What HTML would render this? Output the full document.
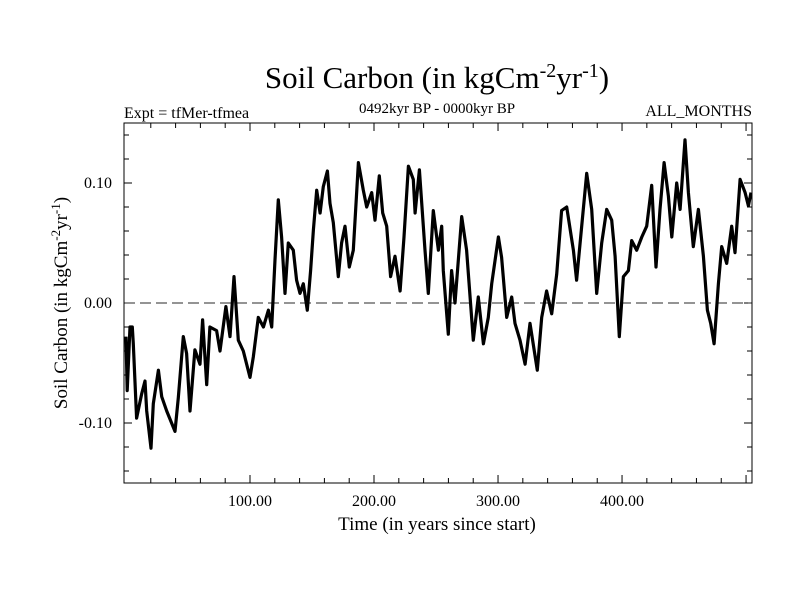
<!DOCTYPE html>
<html><head><meta charset="utf-8"><style>
body{margin:0;background:#fff;}
svg{display:block;font-family:"Liberation Serif",serif;}
</style></head><body>
<svg id="chart" width="800" height="600" viewBox="0 0 800 600">
<rect width="800" height="600" fill="#fff"/>
<text x="437" y="88" font-size="31" text-anchor="middle">Soil Carbon (in kgCm<tspan dy="-11" font-size="20">-2</tspan><tspan dy="11">yr</tspan><tspan dy="-11" font-size="20">-1</tspan><tspan dy="11">)</tspan></text>
<text x="124" y="118" font-size="16">Expt = tfMer-tfmea</text>
<text x="437" y="113" font-size="15" text-anchor="middle">0492kyr BP - 0000kyr BP</text>
<text x="752" y="116" font-size="16" text-anchor="end">ALL_MONTHS</text>
<text x="437" y="530" font-size="19" text-anchor="middle">Time (in years since start)</text>
<text transform="translate(67,303) rotate(-90)" font-size="19" text-anchor="middle">Soil Carbon (in kgCm<tspan dy="-7" font-size="13">-2</tspan><tspan dy="7">yr</tspan><tspan dy="-7" font-size="13">-1</tspan><tspan dy="7">)</tspan></text>
<g id="axes"></g>
<g id="series"></g>
<rect x="124" y="123" width="628" height="360" fill="none" stroke="#000" stroke-width="1"/>
</svg>
<script>
const years=[0,1,3.2,5.1,5.9,8.6,12.6,15.3,16.7,20.2,22,26.1,28.8,32.8,39.5,42.2,46.2,48.9,51.6,55.6,59.7,61.8,65.1,67.7,73.1,75.8,80.6,83.9,87.1,90.6,94.6,100,102.7,106.7,110.8,114.8,117.5,120.2,122.8,125.5,128.2,130.9,134.9,137.6,140.3,143,146.2,148.9,151.1,153.8,156.5,159.1,162.4,164.5,167.2,171.2,173.9,176.6,180.1,183.3,187.4,191.4,194.1,198.1,200.8,204.3,207,210.2,213.4,216.9,221,224.2,227.7,231.7,233.1,236.6,241.1,243.8,247.8,251.9,254.6,255.9,259.9,262.6,265.3,270.7,274.7,280.1,284.1,288.2,292.2,294.9,300.3,302.9,307,311,313.7,317.7,321.8,325.8,331.7,335.2,339.2,343.3,347.3,351.3,355.4,360.8,363.4,367.5,371.5,375.5,379.6,383.6,387.6,391.7,394.4,397.8,401.1,405.1,407.8,411.8,415.9,419.9,423.9,427.4,430.6,433.9,437.4,440.1,444.1,446.8,450.8,453.5,457.5,461.6,465.6,468.8,471.5,474.2,477.7,480.4,484.4,488.4,491.1,495.2,499.2,501.9,504];
const values=[-0.028,-0.073,-0.02,-0.02,-0.034,-0.096,-0.076,-0.065,-0.09,-0.121,-0.084,-0.056,-0.078,-0.09,-0.107,-0.079,-0.028,-0.042,-0.09,-0.039,-0.051,-0.014,-0.068,-0.02,-0.023,-0.04,-0.003,-0.028,0.022,-0.031,-0.04,-0.062,-0.045,-0.012,-0.02,-0.006,-0.02,0.036,0.086,0.055,0.008,0.05,0.044,0.019,0.008,0.016,-0.006,0.027,0.061,0.094,0.075,0.097,0.11,0.083,0.067,0.022,0.05,0.064,0.03,0.044,0.117,0.094,0.08,0.092,0.069,0.106,0.075,0.064,0.022,0.039,0.01,0.055,0.114,0.103,0.075,0.111,0.044,0.008,0.077,0.044,0.064,0.027,-0.026,0.027,0,0.072,0.044,-0.031,0.005,-0.034,-0.012,0.016,0.055,0.038,-0.012,0.005,-0.017,-0.031,-0.051,-0.017,-0.056,-0.012,0.01,-0.009,0.024,0.077,0.08,0.044,0.019,0.064,0.108,0.078,0.008,0.05,0.078,0.069,0.039,-0.028,0.022,0.027,0.052,0.044,0.055,0.064,0.098,0.03,0.078,0.117,0.089,0.055,0.1,0.078,0.136,0.092,0.047,0.078,0.039,-0.006,-0.017,-0.034,0.016,0.047,0.033,0.064,0.042,0.103,0.092,0.081,0.092];
const xTickLabels=["100.00","200.00","300.00","400.00"];
const xTickValues=[100,200,300,400];
const yTickLabels=["-0.10","0.00","0.10"];
const yTickValues=[-0.1,0,0.1];

const L=124,R=752,T=123,B=483;
const xMin=-1.6,xMax=504.8,yMin=-0.15,yMax=0.15;
const sx=v=>L+(v-xMin)/(xMax-xMin)*(R-L);
const sy=v=>B-(v-yMin)/(yMax-yMin)*(B-T);
const NS="http://www.w3.org/2000/svg";
const axes=document.getElementById('axes');
const ser=document.getElementById('series');
function mk(tag,attrs,parent){const e=document.createElementNS(NS,tag);for(const k in attrs)e.setAttribute(k,attrs[k]);parent.appendChild(e);return e;}

for(let v=20;v<=500;v+=20){
  const x=sx(v);const major=v%100===0;const len=major?8:5;
  const t1=mk('line',{x1:x,y1:B,x2:x,y2:B-len,stroke:'#000','stroke-width':1},axes);
  
  
  const t2=mk('line',{x1:x,y1:T,x2:x,y2:T+len,stroke:'#000','stroke-width':1},axes);
  
  
}
for(let i=-7;i<=7;i++){
  const v=i*0.02;const y=sy(v);if(y<T+1||y>B-1)continue;const major=(i%5===0);const len=major?8:5;
  const t1=mk('line',{x1:L,y1:y,x2:L+len,y2:y,stroke:'#000','stroke-width':1},axes);
  
  
  const t2=mk('line',{x1:R,y1:y,x2:R-len,y2:y,stroke:'#000','stroke-width':1},axes);
  
  
}
xTickValues.forEach((v,i)=>{
  const t=mk('text',{x:sx(v),y:506,'font-size':16,'text-anchor':'middle'},axes);
  t.textContent=xTickLabels[i];
  
  
});
yTickValues.forEach((v,i)=>{
  const t=mk('text',{x:112,y:sy(v)+5,'font-size':16,'text-anchor':'end'},axes);
  t.textContent=yTickLabels[i];
  
  
});
const zl=mk('line',{x1:L,y1:sy(0),x2:R,y2:sy(0),stroke:'#555','stroke-width':1.2,'stroke-dasharray':'11,5'},axes);


const d=years.map((yr,i)=>(i?'L':'M')+sx(yr).toFixed(1)+','+sy(values[i]).toFixed(1)).join(' ');
const p=mk('path',{d:d,fill:'none',stroke:'#000','stroke-width':3.2,'stroke-linejoin':'round'},ser);


</script>
</body></html>
